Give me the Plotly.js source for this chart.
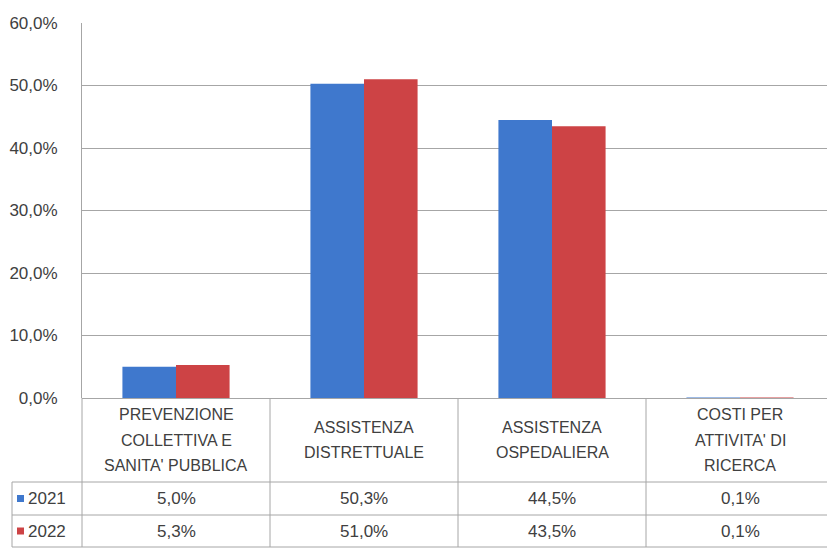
<!DOCTYPE html>
<html>
<head>
<meta charset="utf-8">
<script src="https://cdn.plot.ly/plotly-3.0.1.min.js"></script>
<style>html,body{margin:0;padding:0;background:#fff;}#chart{width:827px;height:548px;}</style>
</head>
<body>
<div id="chart"></div>
<script>
var categories = ["PREVENZIONE<br>COLLETTIVA E<br>SANITA' PUBBLICA", "ASSISTENZA<br>DISTRETTUALE", "ASSISTENZA<br>OSPEDALIERA", "COSTI PER<br>ATTIVITA' DI<br>RICERCA"];
var seriesNames = ["2021", "2022"];
var values2021 = [5.0, 50.3, 44.5, 0.1];
var values2022 = [5.3, 51.0, 43.5, 0.1];
var yTicks = [0, 10, 20, 30, 40, 50, 60];

var colors = ["#3F78CD", "#CD4345"];
var textColor = "#404040";
var gridColor = "#A6A6A6";
var fontFam = "'Liberation Sans', Arial, sans-serif";

var W = 827, H = 548, L = 82, T = 23, PB = 398;
var plotW = W - L, plotH = PB - T;
function px(x) { return (x - L) / plotW; }
function py(y) { return (PB - y) / plotH; }

var xIdx = categories.map(function (c, i) { return i; });
var catW = 188;
var xMax = -0.5 + plotW / catW;

function fmt(v) { return v.toFixed(1).replace('.', ',') + '%'; }

var traces = [
  { type: 'bar', x: xIdx, y: values2021, name: seriesNames[0], marker: { color: colors[0] }, hoverinfo: 'none' },
  { type: 'bar', x: xIdx, y: values2022, name: seriesNames[1], marker: { color: colors[1] }, hoverinfo: 'none' }
];

var shapes = [];
var lineStyle = { color: gridColor, width: 1 };
[482, 515, 547].forEach(function (y) {
  shapes.push({ type: 'line', xref: 'paper', yref: 'paper', x0: px(12), x1: 1, y0: py(y), y1: py(y), line: lineStyle });
});
shapes.push({ type: 'line', xref: 'paper', yref: 'paper', x0: px(12), x1: px(12), y0: py(482), y1: py(547), line: lineStyle });
shapes.push({ type: 'line', xref: 'paper', yref: 'paper', x0: 0, x1: 0, y0: 0, y1: py(547), line: lineStyle });
for (var k = 0; k < categories.length; k++) {
  shapes.push({ type: 'line', xref: 'x', yref: 'paper', x0: k + 0.5, x1: k + 0.5, y0: 0, y1: py(547), line: lineStyle });
}
var rowCenters = [498.5, 531];
rowCenters.forEach(function (yc, i) {
  shapes.push({ type: 'rect', xref: 'paper', yref: 'paper', x0: px(17), x1: px(24), y0: py(yc - 3.5), y1: py(yc + 3.5), fillcolor: colors[i], line: { width: 0 } });
});

var annotations = [];
var lineGap = 25.5, headerCenter = 440;
categories.forEach(function (c, i) {
  var lines = c.split('<br>');
  var n = lines.length;
  lines.forEach(function (ln, j) {
    var yc = headerCenter + (j - (n - 1) / 2) * lineGap;
    annotations.push({ xref: 'x', yref: 'paper', x: i, y: py(yc), text: ln, showarrow: false, xanchor: 'center', yanchor: 'middle', font: { family: fontFam, size: 16, color: textColor } });
  });
});
var allValues = [values2021, values2022];
seriesNames.forEach(function (s, i) {
  annotations.push({ xref: 'paper', yref: 'paper', x: px(26), y: py(rowCenters[i]), text: s, showarrow: false, xanchor: 'left', yanchor: 'middle', font: { family: fontFam, size: 17, color: textColor } });
  allValues[i].forEach(function (v, j) {
    annotations.push({ xref: 'x', yref: 'paper', x: j, y: py(rowCenters[i]), text: fmt(v), showarrow: false, xanchor: 'center', yanchor: 'middle', font: { family: fontFam, size: 17, color: textColor } });
  });
});

var layout = {
  width: W, height: H,
  margin: { l: L, r: 0, t: T, b: H - PB, pad: 0 },
  paper_bgcolor: '#fff', plot_bgcolor: '#fff',
  separators: ',.',
  showlegend: false,
  barmode: 'group', bargap: 0.43, bargroupgap: 0,
  font: { family: fontFam, color: textColor },
  xaxis: { range: [-0.5, xMax], showticklabels: false, showgrid: false, zeroline: false, showline: false, ticks: '', fixedrange: true },
  yaxis: {
    range: [0, 60], tickmode: 'array', tickvals: yTicks, ticktext: yTicks.map(fmt),
    showgrid: true, gridcolor: gridColor, gridwidth: 1,
    zeroline: true, zerolinecolor: gridColor, zerolinewidth: 1,
    showline: true, linecolor: gridColor, linewidth: 1,
    ticks: '', ticklabelstandoff: 20,
    tickfont: { family: fontFam, size: 17, color: textColor }, fixedrange: true
  },
  shapes: shapes,
  annotations: annotations
};

Plotly.newPlot('chart', traces, layout, { displayModeBar: false, staticPlot: true });
</script>
</body>
</html>
